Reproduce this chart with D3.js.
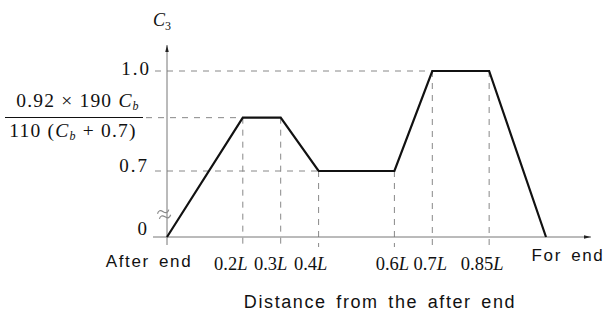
<!DOCTYPE html>
<html>
<head>
<meta charset="utf-8">
<script src="https://cdn.jsdelivr.net/npm/d3@7"></script>
<style>
  body { margin: 0; background: #fff; }
  .serif { font-family: "Liberation Serif", "DejaVu Serif", serif; }
  .sans { font-family: "Liberation Sans", Arial, sans-serif; letter-spacing: 1.6px; word-spacing: 3px; }
</style>
</head>
<body>
<script>
// distance along the ship (fraction of L) and C3 value at each break point
const positions = [0, 0.2, 0.3, 0.4, 0.6, 0.7, 0.85, 1.0];
const c3Values = [0, 0.86, 0.86, 0.7, 0.7, 1.0, 1.0, 0];
const xTickValues = [0.2, 0.3, 0.4, 0.6, 0.7, 0.85];
const xTickLabels = ['0.2', '0.3', '0.4', '0.6', '0.7', '0.85'];
const yRefValues = [1.0, 0.86, 0.7];

const width = 605;
const height = 317;

const x = d3.scaleLinear().domain([0, 1]).range([167, 546]);
// broken axis: 0..0.7 squeezed
const y = d3.scaleLinear().domain([0, 0.7, 1.0]).range([237, 171, 71]);

const svg = d3.select('body').append('svg')
  .attr('width', width)
  .attr('height', height);

const dash = '6,6';
const dashColor = '#888';
const axisColor = '#777';

// horizontal reference dashes
svg.selectAll('line.href')
  .data(yRefValues)
  .enter()
  .append('line')
  .attr('x1', (d, i) => i === 1 ? 146 : 155)
  .attr('x2', d => x(positions[c3Values.indexOf(d)]))
  .attr('y1', d => y(d))
  .attr('y2', d => y(d))
  .attr('stroke', dashColor)
  .attr('stroke-dasharray', dash);

// vertical reference dashes
svg.selectAll('line.vref')
  .data(xTickValues)
  .enter()
  .append('line')
  .attr('x1', d => x(d))
  .attr('x2', d => x(d))
  .attr('y1', d => y(c3Values[positions.indexOf(d)]))
  .attr('y2', 247)
  .attr('stroke', dashColor)
  .attr('stroke-dasharray', dash);

// axes
svg.append('defs').append('marker')
  .attr('id', 'arrow')
  .attr('viewBox', '0 0 10 10')
  .attr('refX', 10).attr('refY', 5)
  .attr('markerWidth', 7).attr('markerHeight', 7)
  .attr('orient', 'auto')
  .append('path')
  .attr('d', 'M0,2.5L10,5L0,7.5Z')
  .attr('fill', '#222');

svg.append('line')
  .attr('x1', x(0)).attr('x2', x(0))
  .attr('y1', 245).attr('y2', 45)
  .attr('stroke', axisColor)
  .attr('marker-end', 'url(#arrow)');

svg.append('line')
  .attr('x1', 153).attr('x2', 591)
  .attr('y1', y(0)).attr('y2', y(0))
  .attr('stroke', axisColor)
  .attr('marker-end', 'url(#arrow)');

// break mark on y axis
const brk = svg.append('g').attr('transform', 'translate(164,214) rotate(-20)')
  .attr('fill', 'none').attr('stroke', '#888').attr('stroke-width', 1.2);
brk.append('path').attr('d', 'M-6,-2.5 q3,-4 6,0 t6,0');
brk.append('path').attr('d', 'M-6,3 q3,-4 6,0 t6,0');

// C3 curve
const line = d3.line()
  .x((d, i) => x(positions[i]))
  .y(d => y(d));

svg.append('path')
  .datum(c3Values)
  .attr('d', line)
  .attr('fill', 'none')
  .attr('stroke', '#111')
  .attr('stroke-width', 2.2)
  .attr('stroke-linejoin', 'miter');

// y labels
const ylab = svg.append('g').attr('class', 'serif').attr('font-size', 19).attr('fill', '#111');
ylab.append('text').attr('x', 151).attr('y', y(1.0) + 4).attr('text-anchor', 'end')
  .attr('letter-spacing', 2).text('1.0');
ylab.append('text').attr('x', 149).attr('y', y(0.7) + 1).attr('text-anchor', 'end')
  .attr('letter-spacing', 2).text('0.7');
ylab.append('text').attr('x', 147).attr('y', y(0) - 2).attr('text-anchor', 'end').text('0');

// fraction label
const frac = ylab.append('g').attr('font-size', 19.5).attr('letter-spacing', 1.2);
const num = frac.append('text').attr('x', 78).attr('y', 107).attr('text-anchor', 'middle');
num.append('tspan').text('0.92 × 190 ');
num.append('tspan').attr('font-style', 'italic').text('C');
num.append('tspan').attr('font-size', 12).attr('font-style', 'italic').attr('dy', 3).text('b');
svg.append('line').attr('x1', 5).attr('x2', 143).attr('y1', 117.5).attr('y2', 117.5)
  .attr('stroke', '#111').attr('stroke-width', 1.2);
const den = frac.append('text').attr('x', 73).attr('y', 137).attr('text-anchor', 'middle');
den.append('tspan').text('110 (');
den.append('tspan').attr('font-style', 'italic').text('C');
den.append('tspan').attr('font-size', 12).attr('font-style', 'italic').attr('dy', 3).text('b');
den.append('tspan').attr('dy', -3).text(' + 0.7)');

// C3 title
const title = ylab.append('text').attr('x', 153).attr('y', 26).attr('font-size', 18);
title.append('tspan').attr('font-style', 'italic').text('C');
title.append('tspan').attr('font-size', 12).attr('dy', 4).text('3');

// x tick labels, nudged left like the original drawing
const labelShift = d => d < 0.5 ? -12 + (d - 0.2) * 20 : -2 - (d > 0.8 ? 5 : 0);
const xt = ylab.selectAll('text.xt')
  .data(xTickValues)
  .enter()
  .append('text')
  .attr('font-size', 18.5)
  .attr('x', d => x(d) + labelShift(d))
  .attr('y', 270)
  .attr('text-anchor', 'middle');
xt.append('tspan').text((d, i) => xTickLabels[i]);
xt.append('tspan').attr('font-style', 'italic').text('L');

// end labels
const sans = svg.append('g').attr('class', 'sans').attr('font-size', 17).attr('fill', '#111');
sans.append('text').attr('x', 149).attr('y', 267).attr('text-anchor', 'middle').text('After end');
sans.append('text').attr('x', 568).attr('y', 261).attr('text-anchor', 'middle').text('For end');
sans.append('text').attr('x', 380).attr('y', 308).attr('text-anchor', 'middle')
  .attr('font-size', 18).text('Distance from the after end');
</script>
</body>
</html>
